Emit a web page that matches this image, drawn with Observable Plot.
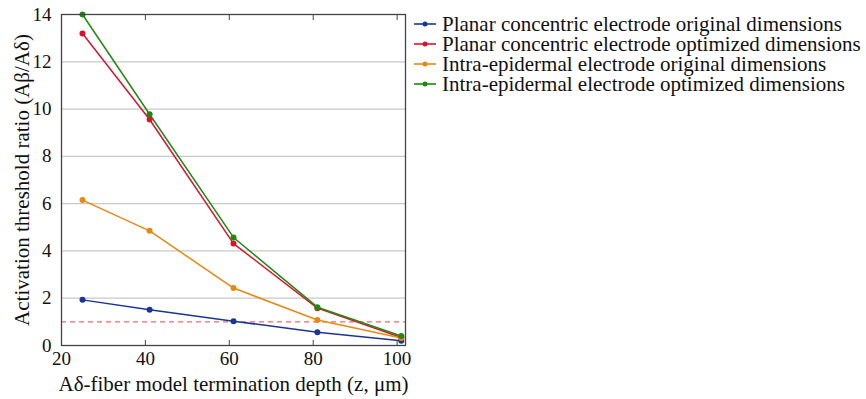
<!DOCTYPE html>
<html>
<head>
<meta charset="utf-8">
<script src="https://cdn.jsdelivr.net/npm/d3@7"></script>
<script src="https://cdn.jsdelivr.net/npm/@observablehq/plot@0.6"></script>
<style>
  body { margin: 0; background: #fff; }
  #wrap { position: relative; width: 866px; height: 399px; font-family: "Liberation Serif", "DejaVu Serif", serif; }
  #legend { position: absolute; left: 413px; top: 14px; font-size: 21px; color: #111; }
  .row { display: flex; align-items: center; height: 20px; white-space: nowrap; }
  .row span { line-height: 20px; display: inline-block; height: 20px; }
  .row svg { margin-right: 5px; }
</style>
</head>
<body>
<div id="wrap"><div id="legend"></div></div>
<script>
const depths = [25, 41, 61, 81, 101];
const seriesNames = [
  "Planar concentric electrode original dimensions",
  "Planar concentric electrode optimized dimensions",
  "Intra-epidermal electrode original dimensions",
  "Intra-epidermal electrode optimized dimensions"
];
const planarOriginal  = [1.93, 1.51, 1.03, 0.56, 0.2];
const planarOptimized = [13.2, 9.56, 4.31, 1.58, 0.34];
const intraOriginal   = [6.15, 4.85, 2.43, 1.08, 0.32];
const intraOptimized  = [14.0, 9.78, 4.57, 1.62, 0.4];
const seriesColors = ["#1b3593", "#dc1232", "#e8880f", "#21890f"];
const xTicks = [20, 40, 60, 80, 100];
const yTicks = [0, 2, 4, 6, 8, 10, 12, 14];
const thresholdLine = [1];

const allValues = [planarOriginal, planarOptimized, intraOriginal, intraOptimized];
const data = [];
allValues.forEach((vals, i) => vals.forEach((v, j) => data.push({series: seriesNames[i], depth: depths[j], ratio: v})));

const tickColor = "#444";
const plot = Plot.plot({
  width: 866,
  height: 399,
  marginLeft: 61,
  marginRight: 461,
  marginTop: 14,
  marginBottom: 54,
  style: {fontFamily: "'Liberation Serif', serif", fontSize: "19px", color: "#111", background: "white"},
  x: {domain: [20, 102], ticks: xTicks},
  y: {domain: [0, 14], ticks: yTicks},
  color: {domain: seriesNames, range: seriesColors},
  marks: [
    Plot.gridY(yTicks, {stroke: "#c8c8c8", strokeOpacity: 1, strokeWidth: 1.2}),
    Plot.ruleY(thresholdLine, {stroke: "#f06a6a", strokeDasharray: "5,4", strokeWidth: 1.4}),
    Plot.line(data, {x: "depth", y: "ratio", z: "series", stroke: "series", strokeWidth: 1.5}),
    Plot.dot(data, {x: "depth", y: "ratio", fill: "series", r: 3}),
    Plot.frame({stroke: tickColor, strokeWidth: 1.3}),
    Plot.axisX(xTicks, {anchor: "bottom", tickSize: 5, dy: -5, tickFormat: () => "", stroke: tickColor, label: null}),
    Plot.axisX(xTicks, {anchor: "top", tickSize: 5, dy: 5, tickFormat: () => "", stroke: tickColor, label: null}),
    Plot.axisX(xTicks, {anchor: "bottom", tickSize: 0, tickPadding: 6, label: null}),
    Plot.axisY(yTicks, {anchor: "left", tickSize: 0, tickPadding: 10, label: null}),
    Plot.text(["Aδ-fiber model termination depth (z, μm)"], {frameAnchor: "bottom", lineAnchor: "middle", dy: 39, fontSize: 21, fill: "#111"}),
    Plot.text(["Activation threshold ratio (Aβ/Aδ)"], {frameAnchor: "left", textAnchor: "middle", lineAnchor: "middle", rotate: -90, dx: -39, fontSize: 21, fill: "#111"})
  ]
});
document.getElementById("wrap").prepend(plot);

const legend = document.getElementById("legend");
seriesNames.forEach((name, i) => {
  const row = document.createElement("div");
  row.className = "row";
  row.innerHTML = `<svg width="24" height="10"><line x1="1" y1="5" x2="23" y2="5" stroke="${seriesColors[i]}" stroke-width="1.6"/><circle cx="12" cy="5" r="2.5" fill="${seriesColors[i]}"/></svg><span>${name}</span>`;
  legend.appendChild(row);
});
</script>
</body>
</html>
